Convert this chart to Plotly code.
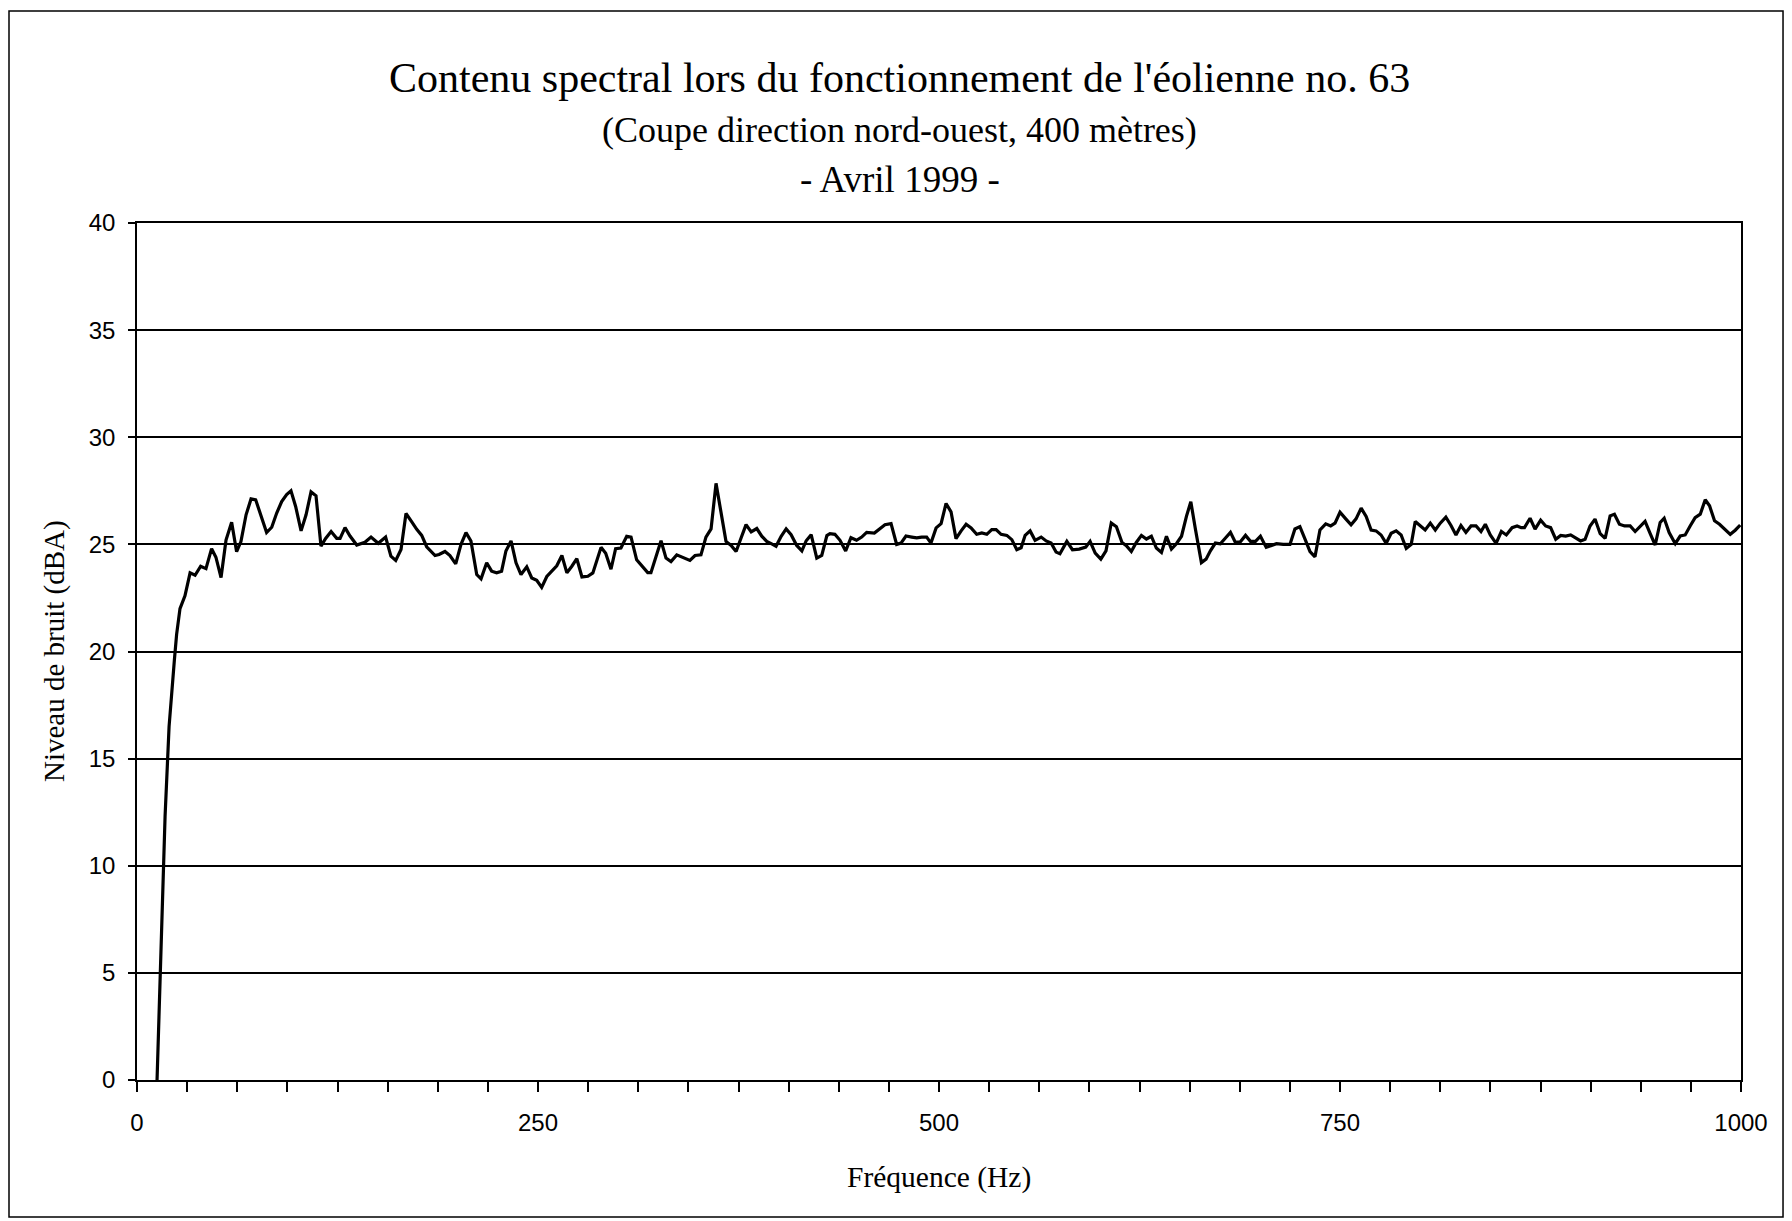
import plotly.graph_objects as go

# spectre (Hz, dBA)
freq_hz = [
    12.5, 15.0, 17.5, 20.0, 22.0, 23.3, 24.7, 26.8, 29.9, 33.1, 36.2, 39.7, 43.0, 46.5, 49.2,
    52.4, 55.5, 59.0, 62.1, 64.8, 68.0, 71.1, 74.0, 77.3, 80.8, 84.0, 87.1, 90.2, 93.3, 96.0,
    98.9, 102.3, 105.4, 108.5, 111.6, 114.7, 117.6, 121.0, 124.5, 126.6, 129.7, 132.8, 137.0,
    142.1, 145.9, 150.4, 155.0, 158.3, 161.3, 164.6, 167.7, 171.3, 174.4, 177.5, 180.6, 185.8,
    188.3, 192.0, 195.1, 198.7, 202.0, 205.1, 208.2, 211.8, 214.5, 218.0, 221.1, 224.2, 227.3,
    230.0, 233.2, 236.3, 239.4, 243.0, 246.1, 249.2, 252.3, 255.5, 258.6, 261.7, 264.9, 268.0,
    271.1, 274.2, 277.4, 281.1, 284.2, 289.3, 292.2, 295.5, 298.4, 301.7, 305.3, 308.0, 311.5,
    314.6, 318.4, 320.4, 323.6, 326.7, 329.8, 332.9, 336.5, 340.6, 344.7, 347.9, 351.6, 354.7,
    357.9, 361.0, 364.1, 367.2, 370.4, 373.5, 376.6, 379.7, 382.9, 386.4, 389.5, 392.6, 395.7,
    398.4, 401.6, 404.7, 407.8, 411.3, 414.5, 417.2, 420.3, 423.8, 426.9, 430.1, 432.0, 435.1,
    438.3, 441.8, 445.1, 448.6, 451.8, 454.9, 459.7, 463.2, 466.3, 470.1, 473.6, 476.3, 479.4,
    483.0, 486.1, 489.2, 492.3, 495.0, 498.2, 501.3, 504.4, 507.5, 510.6, 513.8, 516.9, 520.0,
    523.5, 526.7, 529.8, 532.9, 535.6, 538.7, 542.3, 545.4, 548.5, 551.2, 553.7, 556.8, 559.9,
    563.7, 566.8, 569.9, 573.0, 575.4, 579.7, 583.2, 587.4, 591.5, 594.2, 597.4, 600.9, 604.1,
    607.4, 610.6, 614.1, 616.8, 619.9, 623.0, 626.2, 629.3, 632.4, 635.5, 638.7, 641.8, 644.9,
    648.0, 651.2, 654.3, 657.0, 659.9, 663.6, 666.5, 669.2, 672.3, 675.4, 678.6, 681.7, 684.8,
    687.9, 691.1, 694.2, 697.3, 700.4, 704.0, 707.3, 710.4, 714.6, 718.8, 721.9, 725.0, 728.2,
    731.3, 734.4, 737.5, 741.1, 744.2, 746.9, 750.0, 753.6, 756.9, 760.0, 763.2, 766.3, 769.4,
    772.5, 775.6, 778.8, 781.9, 785.0, 788.1, 791.3, 794.4, 796.9, 800.0, 803.1, 806.3, 809.4,
    812.5, 816.0, 819.2, 822.3, 825.4, 828.5, 831.7, 834.8, 837.9, 840.6, 843.7, 847.3, 850.6,
    853.7, 857.3, 860.4, 863.0, 865.0, 868.5, 871.6, 875.1, 878.2, 881.3, 884.5, 887.6, 890.7,
    893.8, 896.9, 900.0, 902.8, 905.9, 909.0, 912.2, 915.3, 918.4, 921.1, 924.2, 927.4, 930.9,
    934.0, 937.1, 940.2, 943.4, 946.5, 949.6, 952.1, 955.2, 959.0, 962.1, 965.2, 968.3, 971.4,
    974.6, 977.7, 980.4, 983.5, 986.6, 989.8, 993.3, 996.4, 999.5,
]
level_dba = [
    0.0, 6.5, 12.3, 16.5, 18.6, 19.6, 20.8, 22.0, 22.6, 23.67, 23.56, 23.98, 23.87, 24.8, 24.4,
    23.45, 25.2, 26.03, 24.66, 25.13, 26.38, 27.12, 27.08, 26.3, 25.55, 25.8, 26.46, 27.0, 27.32, 27.5,
    26.77, 25.63, 26.38, 27.45, 27.27, 24.92, 25.28, 25.6, 25.28, 25.28, 25.78, 25.39, 24.97,
    25.1, 25.34, 25.05, 25.34, 24.45, 24.25, 24.76, 26.44, 26.05, 25.7, 25.42, 24.89, 24.48,
    24.53, 24.67, 24.48, 24.09, 25.0, 25.55, 25.16, 23.59, 23.39, 24.14, 23.75, 23.67, 23.75,
    24.69, 25.16, 24.14, 23.59, 23.95, 23.43, 23.32, 22.99, 23.5, 23.75, 24.0, 24.48, 23.67,
    23.98, 24.33, 23.48, 23.51, 23.67, 24.86, 24.59, 23.84, 24.8, 24.83, 25.38, 25.34, 24.28,
    24.01, 23.68, 23.68, 24.44, 25.17, 24.36, 24.2, 24.51, 24.36, 24.25, 24.48, 24.51, 25.34,
    25.72, 27.85, 26.55, 25.14, 24.95, 24.67, 25.3, 25.92, 25.58, 25.74, 25.38, 25.14, 25.02,
    24.91, 25.38, 25.72, 25.45, 24.95, 24.7, 25.17, 25.45, 24.36, 24.48, 25.41, 25.5, 25.47,
    25.19, 24.69, 25.31, 25.19, 25.34, 25.56, 25.53, 25.74, 25.92, 25.97, 25.0, 25.06, 25.39,
    25.34, 25.3, 25.34, 25.34, 25.06, 25.77, 25.97, 26.91, 26.52, 25.27, 25.63, 25.94, 25.77,
    25.47, 25.53, 25.47, 25.69, 25.69, 25.47, 25.42, 25.22, 24.75, 24.84, 25.42, 25.63, 25.19,
    25.34, 25.16, 25.06, 24.64, 24.56, 25.14, 24.75, 24.78, 24.87, 25.14, 24.59, 24.31, 24.7,
    26.0, 25.82, 25.09, 24.94, 24.67, 25.09, 25.42, 25.25, 25.38, 24.83, 24.62, 25.38, 24.78,
    25.03, 25.38, 26.32, 26.99, 25.69, 24.15, 24.31, 24.7, 25.06, 25.03, 25.3, 25.56, 25.09,
    25.12, 25.42, 25.14, 25.14, 25.38, 24.86, 24.94, 25.03, 25.0, 25.0, 25.72, 25.83, 25.25,
    24.66, 24.42, 25.67, 25.96, 25.86, 25.99, 26.5, 26.19, 25.91, 26.19, 26.69, 26.3, 25.67,
    25.63, 25.44, 25.05, 25.52, 25.63, 25.44, 24.81, 25.0, 26.07, 25.86, 25.67, 25.99, 25.67,
    25.99, 26.27, 25.88, 25.44, 25.88, 25.56, 25.86, 25.86, 25.6, 25.94, 25.44, 25.05, 25.6,
    25.44, 25.78, 25.86, 25.78, 25.78, 26.22, 25.71, 26.13, 25.86, 25.78, 25.24, 25.42, 25.39,
    25.44, 25.28, 25.16, 25.24, 25.86, 26.18, 25.5, 25.28, 26.33, 26.41, 25.94, 25.86, 25.86,
    25.6, 25.82, 26.07, 25.5, 24.97, 26.02, 26.22, 25.55, 25.03, 25.39, 25.44, 25.86, 26.25,
    26.41, 27.08, 26.8, 26.1, 25.94, 25.71, 25.47, 25.66, 25.9,
]

title_lines = [
    "Contenu spectral lors du fonctionnement de l'éolienne no. 63",
    "(Coupe direction nord-ouest, 400 mètres)",
    "- Avril 1999 -",
]
x_labels = {0: "0", 250: "250", 500: "500", 750: "750", 1000: "1000"}

SERIF = "Liberation Serif, DejaVu Serif, serif"
SANS = "Liberation Sans, Arial, sans-serif"

# graduations mineures tous les 31.25 Hz, étiquettes tous les 250 Hz
tick_pos = [i * 31.25 for i in range(33)]
tick_txt = [x_labels[int(t)] if t in x_labels else "" for t in tick_pos]

fig = go.Figure()
fig.add_trace(go.Scatter(
    x=freq_hz, y=level_dba, mode="lines",
    line=dict(color="black", width=3.2), showlegend=False,
))

fig.update_layout(
    width=1792, height=1221,
    margin=dict(l=137, r=51, t=223, b=141),
    paper_bgcolor="white", plot_bgcolor="white",
    font=dict(family=SANS, color="black"),
)
fig.update_xaxes(
    range=[0, 1000], tickmode="array", tickvals=tick_pos, ticktext=tick_txt,
    ticks="outside", ticklen=10, tickwidth=1.5, tickcolor="black",
    showline=True, linecolor="black", linewidth=1.5, mirror=True,
    showgrid=False, zeroline=False, ticklabelstandoff=10,
    tickfont=dict(family=SANS, size=24),
)
fig.update_yaxes(
    range=[0, 40], dtick=5, ticks="outside", ticklen=7, tickwidth=1.5, tickcolor="black",
    showline=True, linecolor="black", linewidth=1.5, mirror=True,
    showgrid=True, gridcolor="black", gridwidth=1.7, zeroline=False,
    ticklabelstandoff=8, tickfont=dict(family=SANS, size=24),
)

# titre sur trois lignes
for txt, y, size in zip(title_lines, [1.1692, 1.1085, 1.0502], [42, 36, 37]):
    fig.add_annotation(text=txt, x=0.4755, y=y, xref="paper", yref="paper",
                       showarrow=False, xanchor="center", yanchor="middle",
                       font=dict(family=SERIF, size=size))

fig.add_annotation(text="Niveau de bruit (dBA)", x=-0.0511, y=0.5006, xref="paper", yref="paper",
                   showarrow=False, textangle=-90, xanchor="center", yanchor="middle",
                   font=dict(family=SERIF, size=29))
fig.add_annotation(text="Fréquence (Hz)", x=0.5, y=-0.1132, xref="paper", yref="paper",
                   showarrow=False, xanchor="center", yanchor="middle",
                   font=dict(family=SERIF, size=29.5))

# cadre extérieur du graphique
fig.add_shape(type="rect", xref="paper", yref="paper",
              x0=-0.0798, x1=1.0262, y0=-0.16, y1=1.2474,
              line=dict(color="black", width=1.5))

fig.write_html("out.html", config={"displayModeBar": False},
               post_script="document.body.style.margin='0';")
